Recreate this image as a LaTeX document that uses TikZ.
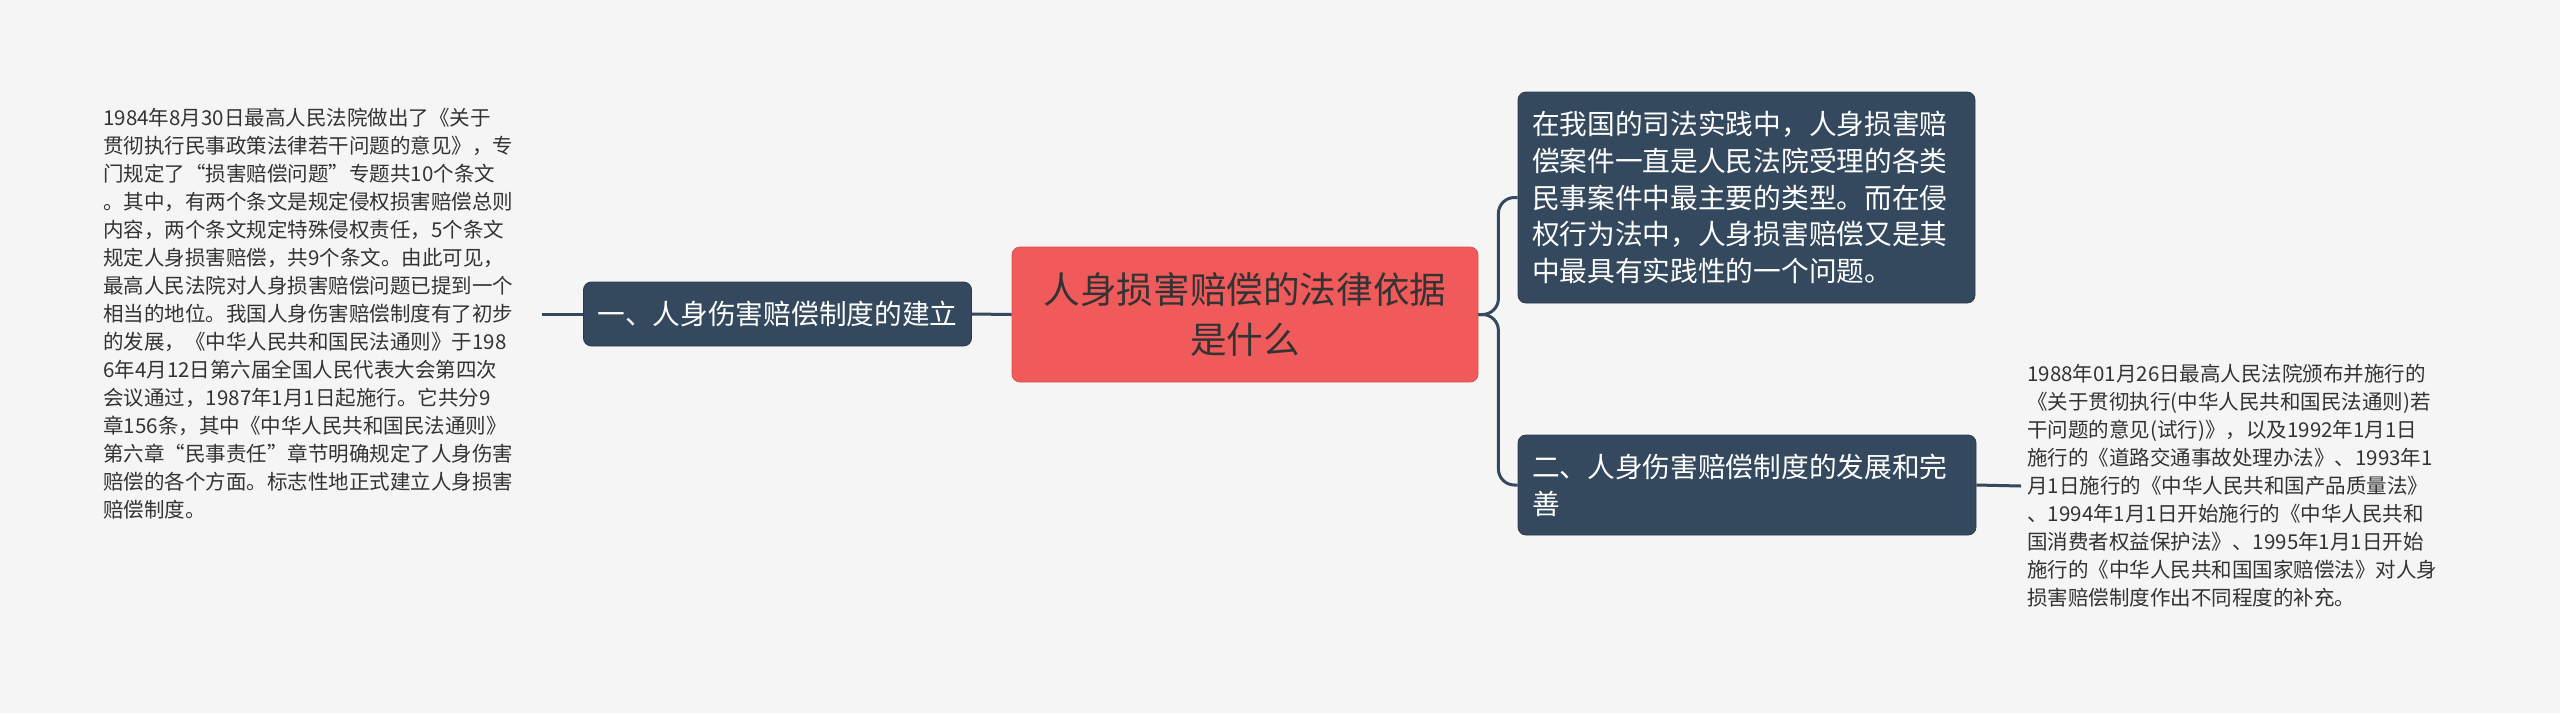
\documentclass[tikz,border=0pt]{standalone}
\usepackage{fontspec}
\setmainfont{Noto Sans CJK SC}
\usepackage{xcolor}
\usepackage{tikz}
\usetikzlibrary{positioning}
\definecolor{slate}{HTML}{34495E}
\definecolor{coral}{HTML}{F05A5A}
\definecolor{ink}{HTML}{333333}
\definecolor{paper}{HTML}{F5F5F5}

\begin{document}
\begin{tikzpicture}[
  x=0.5pt, y=-0.5pt,
  topic/.style={draw=slate!80!black, fill=slate, rounded corners=4pt, text=white, inner xsep=7pt, inner ysep=0pt, font=\fontsize{13.85pt}{18.35pt}\selectfont},
  central/.style={draw=coral!90!black, fill=coral, rounded corners=4pt, text=ink, align=center, minimum width=233pt, minimum height=67.5pt, font=\fontsize{18.3pt}{25pt}\selectfont},
  note/.style={text=ink, align=left, inner sep=3pt, font=\fontsize{10.25pt}{14pt}\selectfont},
  link/.style={draw=slate, line width=1.5pt, rounded corners=8pt}
]
\fill[paper] (0,0) rectangle (2560,713);
\useasboundingbox (0,0) rectangle (2560,713);

\node[central] (main) at (1245,314.5) {人身损害赔偿的法律依据\\是什么};
\node[topic, align=center, minimum width=192.5pt, minimum height=32pt] (first) at (777.5,314) {一、人身伤害赔偿制度的建立};
\node[topic, align=left, text width=214.5pt, minimum height=105.5pt] (practice) at (1746.5,197.5) {在我国的司法实践中，人身损害赔\\偿案件一直是人民法院受理的各类\\民事案件中最主要的类型。而在侵\\权行为法中，人身损害赔偿又是其\\中最具有实践性的一个问题。};
\node[topic, align=left, text width=215pt, minimum height=50pt] (second) at (1747,485) {二、人身伤害赔偿制度的发展和完\\善};

\node[note, anchor=west, text width=216pt] (history) at (97,314) {1984年8月30日最高人民法院做出了《关于\\贯彻执行民事政策法律若干问题的意见》，专\\门规定了“损害赔偿问题”专题共10个条文\\。其中，有两个条文是规定侵权损害赔偿总则\\内容，两个条文规定特殊侵权责任，5个条文\\规定人身损害赔偿，共9个条文。由此可见，\\最高人民法院对人身损害赔偿问题已提到一个\\相当的地位。我国人身伤害赔偿制度有了初步\\的发展，《中华人民共和国民法通则》于198\\6年4月12日第六届全国人民代表大会第四次\\会议通过，1987年1月1日起施行。它共分9\\章156条，其中《中华人民共和国民法通则》\\第六章“民事责任”章节明确规定了人身伤害\\赔偿的各个方面。标志性地正式建立人身损害\\赔偿制度。};
\node[note, anchor=west] (laws) at (2021,486) {1988年01月26日最高人民法院颁布并施行的\\《关于贯彻执行(中华人民共和国民法通则)若\\干问题的意见(试行)》，以及1992年1月1日\\施行的《道路交通事故处理办法》、1993年1\\月1日施行的《中华人民共和国产品质量法》\\、1994年1月1日开始施行的《中华人民共和\\国消费者权益保护法》、1995年1月1日开始\\施行的《中华人民共和国国家赔偿法》对人身\\损害赔偿制度作出不同程度的补充。};

\draw[link] (history.east) -- (first.west);
\draw[link] (first.east) -- (main.west);
\draw[link] (main.east) -- ++(20,0) |- (practice.west);
\draw[link] (main.east) -- ++(20,0) |- (second.west);
\draw[link] (second.east) -- (laws.west);
\end{tikzpicture}
\end{document}
